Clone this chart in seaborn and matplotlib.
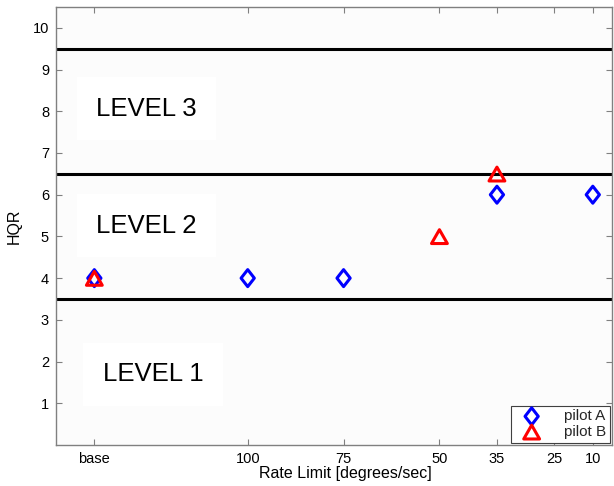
import numpy as np
import pandas as pd
import matplotlib
matplotlib.use("Agg")
import matplotlib.pyplot as plt
from matplotlib.path import Path
import seaborn as sns

# Rate-limit conditions and their slot on the x axis
rate_labels = ["base", "100", "75", "50", "35", "25", "10"]
rate_pos = [0, 8, 13, 18, 21, 24, 26]

# Handling qualities ratings per pilot
pilot_a_rates = ["base", "100", "75", "35", "10"]
pilot_a_hqr = [4, 4, 4, 6, 6]
pilot_b_rates = ["base", "50", "35"]
pilot_b_hqr = [4, 5, 6.5]

# Level boundaries and labels
level_bounds = [3.5, 6.5, 9.5]
level_names = ["LEVEL 1", "LEVEL 2", "LEVEL 3"]
level_text_y = [1.7, 5.26, 8.06]
level_text_x = [0.45, 0.1, 0.1]

pos_of = dict(zip(rate_labels, rate_pos))
df = pd.concat([
    pd.DataFrame({"x": [pos_of[r] for r in pilot_a_rates], "HQR": pilot_a_hqr, "pilot": "pilot A"}),
    pd.DataFrame({"x": [pos_of[r] for r in pilot_b_rates], "HQR": pilot_b_hqr, "pilot": "pilot B"}),
])

sns.set_theme(style="white")
plt.rcParams["font.family"] = ["Liberation Sans", "DejaVu Sans"]

diamond = Path([(0, 1), (0.78, 0), (0, -1), (-0.78, 0), (0, 1)],
               [Path.MOVETO, Path.LINETO, Path.LINETO, Path.LINETO, Path.CLOSEPOLY])
triangle = Path([(0, 0.85), (1, -0.9), (-1, -0.9), (0, 0.85)],
                [Path.MOVETO, Path.LINETO, Path.LINETO, Path.CLOSEPOLY])

fig = plt.figure(figsize=(6.14, 4.86), dpi=100)
ax = fig.add_axes([0.0912, 0.0844, 0.9055, 0.9012])
ax.set_facecolor("#fcfcfc")

for yb in level_bounds:
    ax.axhline(yb, color="black", lw=2.2, zorder=1)

styles = {"pilot A": (diamond, "blue", 150), "pilot B": (triangle, "red", 130)}
for name, sub in df.groupby("pilot"):
    mk, col, sz = styles[name]
    sns.scatterplot(data=sub, x="x", y="HQR", ax=ax, marker=mk, s=sz,
                    facecolors="none", edgecolor=col, linewidth=2.2,
                    label=name, zorder=3)

for name, tx, ty in zip(level_names, level_text_x, level_text_y):
    ax.text(tx, ty, name, fontsize=18.5, ha="left", va="center", color="black",
            bbox=dict(facecolor="white", edgecolor="none", pad=14), zorder=2)

ax.set_xlim(-2, 27)
ax.set_ylim(0, 10.5)
ax.set_xticks(rate_pos)
ax.set_xticklabels(rate_labels)
ax.set_yticks(range(1, 11))
ax.set_xlabel("Rate Limit [degrees/sec]", fontsize=11.5, labelpad=4, color="black")
ax.set_ylabel("HQR", fontsize=11.5, labelpad=8, color="black")
ax.xaxis.set_label_coords(0.52, -0.048)

for sp in ax.spines.values():
    sp.set_visible(True)
    sp.set_color("#808080")
    sp.set_linewidth(1.0)
ax.tick_params(direction="in", length=4, width=0.8, color="#808080",
               labelsize=10.5, labelcolor="black", top=True, right=True,
               bottom=True, left=True, pad=5)

leg = ax.legend(loc="lower right", fontsize=11, frameon=True, fancybox=False,
                borderaxespad=0.15, handletextpad=1.0, borderpad=0.25,
                labelspacing=0.1, handlelength=2.2)
leg.get_frame().set_edgecolor("#404040")
leg.get_frame().set_linewidth(0.8)
leg.get_frame().set_facecolor("white")
leg.get_frame().set_alpha(1)

fig.savefig("out.png", dpi=100)
